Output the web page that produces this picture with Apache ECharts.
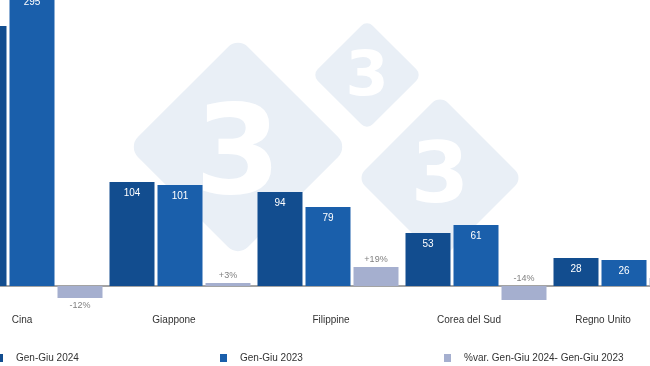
<!DOCTYPE html>
<html>
<head>
<meta charset="utf-8">
<script src="https://cdn.jsdelivr.net/npm/echarts@6/dist/echarts.min.js"></script>
<style>html,body{margin:0;padding:0;background:#fff}#c{width:650px;height:366px}</style>
</head>
<body>
<div id="c"></div>
<script>
const categories = ['Cina', 'Giappone', 'Filippine', 'Corea del Sud', 'Regno Unito'];
const values2024 = [260, 104, 94, 53, 28];
const values2023 = [295, 101, 79, 61, 26];
const varPct = [-12, 3, 19, -14, 8];
const seriesNames = ['Gen-Giu 2024', 'Gen-Giu 2023', '%var. Gen-Giu 2024- Gen-Giu 2023'];

const colors = ['#124d8f', '#1a5fab', '#a5afcf'];
const labelShift = [-10, -6, 3, -7, -21];
const font = '"Liberation Sans", Arial, sans-serif';

const chart = echarts.init(document.getElementById('c'), null, {renderer: 'canvas'});

function diamond(cx, cy, halfDiag, r, glyphSize, glyphDy) {
  const side = halfDiag * Math.SQRT2;
  return [
    {type: 'rect', x: cx, y: cy, rotation: Math.PI / 4, z: -10, silent: true,
     shape: {x: -side / 2, y: -side / 2, width: side, height: side, r: r},
     style: {fill: '#e9eff6'}},
    {type: 'text', x: cx, y: cy + glyphDy, z: -9, silent: true,
     style: {text: '3', fill: '#ffffff', font: 'bold ' + glyphSize + 'px "DejaVu Sans", sans-serif', align: 'center', verticalAlign: 'middle'}}
  ];
}

const legends = seriesNames.map((n, i) => ({
  data: [n], left: [-4, 220, 444][i], top: 353, padding: 0, itemWidth: 7, itemHeight: 8, icon: 'rect',
  textStyle: {fontSize: 10, color: '#333', fontFamily: font, padding: [0, 0, 0, 8]}
}));

const option = {
  animation: false,
  backgroundColor: '#fff',
  graphic: [].concat(
    diamond(238, 147, 110, 14, 124, 14),
    diamond(367, 75, 55, 8, 62, 4),
    diamond(440, 178, 83, 11, 84, 2)
  ),
  legend: legends,
  grid: {left: -42, width: 740, top: -14, height: 320, containLabel: false, outerBoundsMode: 'none'},
  xAxis: {
    type: 'category',
    data: categories.map((c, i) => ({
      value: c,
      textStyle: {padding: labelShift[i] < 0 ? [0, -2 * labelShift[i], 0, 0] : [0, 0, 0, 2 * labelShift[i]]}
    })),
    axisLine: {onZero: true, lineStyle: {color: '#858585', width: 1.5}},
    axisTick: {show: false},
    axisLabel: {margin: 9, fontSize: 10, color: '#333', fontFamily: font, interval: 0}
  },
  yAxis: {type: 'value', min: -20, max: 300, show: false, splitLine: {show: false}},
  series: [
    {name: seriesNames[0], type: 'bar', data: values2024, barWidth: 45, barGap: '6.67%',
     itemStyle: {color: colors[0]},
     label: {show: true, position: 'insideTop', distance: 6, color: '#fff', fontSize: 10, fontFamily: font}},
    {name: seriesNames[1], type: 'bar', data: values2023, barWidth: 45, barGap: '6.67%',
     itemStyle: {color: colors[1]},
     label: {show: true, position: 'insideTop', distance: 6, color: '#fff', fontSize: 10, fontFamily: font}},
    {name: seriesNames[2], type: 'bar', barWidth: 45, barGap: '6.67%',
     data: varPct.map((v, i) => i === 0 ? {value: v, label: {position: 'bottom'}} : v),
     itemStyle: {color: colors[2]},
     label: {show: true, position: 'top', distance: 3, color: '#808080', fontSize: 9, fontFamily: font,
       formatter: p => (p.value > 0 ? '+' : '') + p.value + '%'}}
  ]
};
chart.setOption(option);
</script>
</body>
</html>
